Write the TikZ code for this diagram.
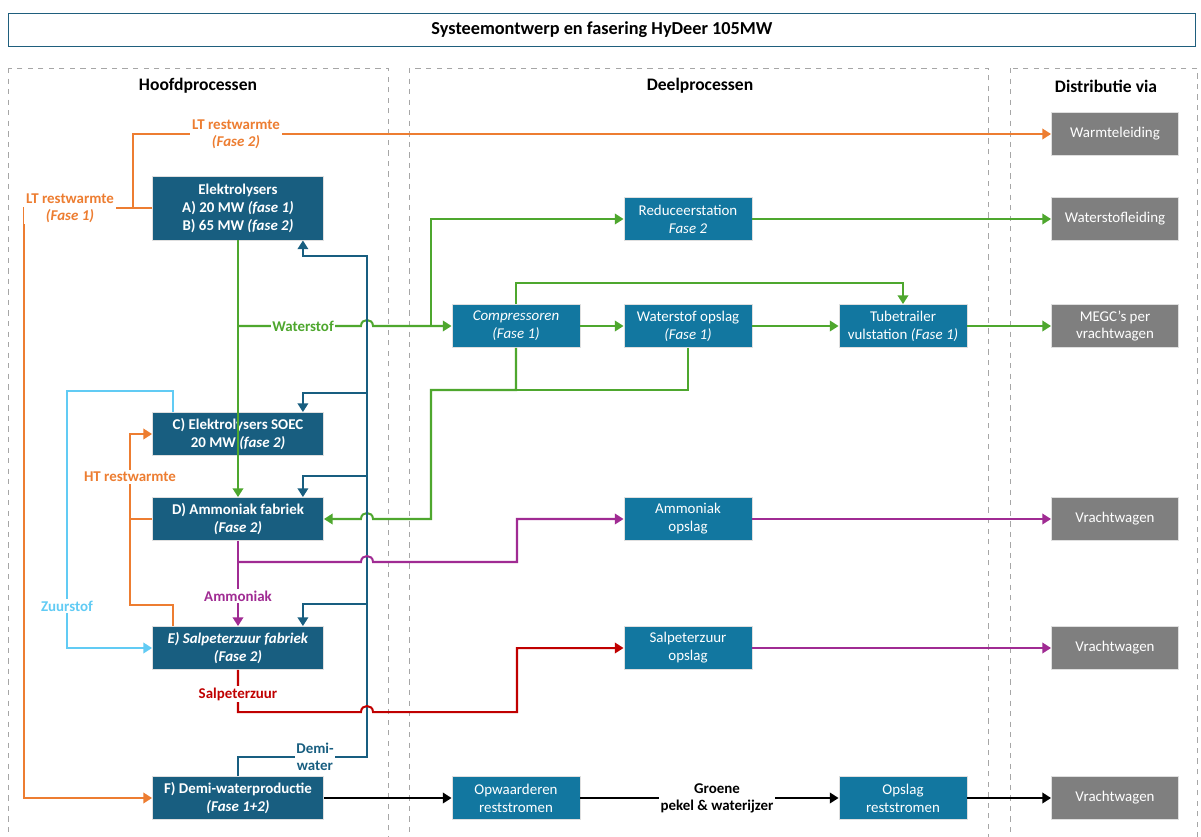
\documentclass[tikz,border=0pt]{standalone}
\usepackage{fontspec}
\setmainfont{Carlito}
\usepackage{tikz}
\usetikzlibrary{arrows.meta,calc}

\definecolor{hoofdblauw}{RGB}{24,94,128}
\definecolor{deelblauw}{RGB}{18,119,160}
\definecolor{distrgrijs}{RGB}{127,127,127}
\definecolor{warmoranje}{RGB}{237,125,49}
\definecolor{h2groen}{RGB}{78,167,46}
\definecolor{zuurblauw}{RGB}{97,203,244}
\definecolor{nh3paars}{RGB}{160,43,147}
\definecolor{hno3rood}{RGB}{192,0,0}
\definecolor{titelrand}{RGB}{31,95,125}

\tikzset{
  boxtekst/.style={font=\fontsize{8.5}{10.2}\selectfont, text=white, align=center, inner sep=1pt},
  hoofd/.style={boxtekst, fill=hoofdblauw, draw=white!75!gray, line width=0.5pt,
    font=\bfseries\fontsize{8.5}{10.2}\selectfont, minimum width=3.42cm, minimum height=0.86cm},
  deel/.style={boxtekst, fill=deelblauw, draw=white!75!gray, line width=0.5pt,
    minimum width=2.56cm, minimum height=0.86cm},
  distr/.style={boxtekst, fill=distrgrijs, draw=white!75!gray, line width=0.5pt,
    minimum width=2.54cm, minimum height=0.86cm},
  kop/.style={font=\bfseries\fontsize{10}{12}\selectfont},
  paneel/.style={draw=gray!70, dashed, line width=0.4pt},
  lijn/.style={line width=1.15pt, -{Triangle[length=5pt,width=6pt]}},
  stub/.style={line width=1.15pt},
  lbl/.style={fill=white, font=\bfseries\fontsize{8.5}{9.6}\selectfont, align=center, inner sep=1pt},
}

\begin{document}
\begin{tikzpicture}[x=0.02cm,y=-0.02cm]
  \useasboundingbox[fill=white] (0,0) rectangle (1201,836);

  % titel en kolommen
  \node (titel) at (602,30)[draw=titelrand, line width=0.6pt, minimum width=23.76cm, minimum height=0.66cm, kop, font=\bfseries\fontsize{10.4}{12}\selectfont]{Systeemontwerp en fasering HyDeer 105MW};
  \draw[paneel] (8,68) rectangle (388,860);
  \draw[paneel] (409,68) rectangle (988,860);
  \draw[paneel] (1010,68) rectangle (1197,860);
  \node (kop1) at (198,86)[kop]{Hoofdprocessen};
  \node (kop2) at (700,86)[kop]{Deelprocessen};
  \node (kop3) at (1106,86)[kop]{Distributie via};

  % hoofdprocessen
  \node (elA) at (238,208)[hoofd, minimum height=1.28cm]{Elektrolysers\\A) 20 MW \textit{(fase 1)}\\B) 65 MW \textit{(fase 2)}};
  \node (soec) at (238,434)[hoofd]{C) Elektrolysers SOEC\\20 MW \textit{(fase 2)}};
  \node (amfab) at (238,519)[hoofd]{D) Ammoniak fabriek\\\textit{(Fase 2)}};
  \node (salp) at (238,648)[hoofd]{\textit{E) Salpeterzuur fabriek}\\\textit{(Fase 2)}};
  \node (demi) at (238,798)[hoofd]{F) Demi-waterproductie\\\textit{(Fase 1+2)}};

  % deelprocessen
  \node (reduc) at (688,219)[deel]{Reduceerstation\\\textit{Fase 2}};
  \node (comp) at (516,326)[deel]{\textit{Compressoren}\\\textit{(Fase 1)}};
  \node (h2opslag) at (688,326)[deel]{Waterstof opslag\\\textit{(Fase 1)}};
  \node (tube) at (903,326)[deel]{Tubetrailer\\vulstation \textit{(Fase 1)}};
  \node (amopslag) at (688,519)[deel]{Ammoniak\\opslag};
  \node (salpopslag) at (688,648)[deel]{Salpeterzuur\\opslag};
  \node (opw) at (516,798)[deel]{Opwaarderen\\reststromen};
  \node (restopslag) at (903,798)[deel]{Opslag\\reststromen};

  % distributie
  \node (warmte) at (1115,134)[distr]{Warmteleiding};
  \node (h2leiding) at (1115,219)[distr]{Waterstofleiding};
  \node (megc) at (1115,326)[distr]{MEGC’s per\\vrachtwagen};
  \node (vracht1) at (1115,519)[distr]{Vrachtwagen};
  \node (vracht2) at (1115,648)[distr]{Vrachtwagen};
  \node (vracht3) at (1115,798)[distr]{Vrachtwagen};

  % restwarmte
  \draw[lijn, warmoranje] (elA.west) -- ++(-19,0) |- (warmte.west);
  \draw[lijn, warmoranje] (elA.west) -| (24,798) -- (demi.west);
  \draw[lijn, warmoranje] (salp.north west) ++(21,0) |- (130,605) |- (soec.west);
  \draw[stub, warmoranje] (amfab.west) -- (130,519);

  % zuurstof
  \draw[lijn, zuurblauw] (soec.north west) ++(21,0) |- (67,391) |- (salp.west);

  % waterstof
  \draw[lijn, h2groen] (elA.south) -- (amfab.north);
  \draw[lijn, h2groen] (elA.south |- comp.west) -- (361,326) .. controls (361,318) and (373,318) .. (373,326) -- (comp.west);
  \draw[lijn, h2groen] (431,326) |- (reduc.west);
  \draw[lijn, h2groen] (comp.north) -- ++(0,-21) -| (tube.north);
  \draw[lijn, h2groen] (comp.east) -- (h2opslag.west);
  \draw[lijn, h2groen] (h2opslag.east) -- (tube.west);
  \draw[lijn, h2groen] (tube.east) -- (megc.west);
  \draw[lijn, h2groen] (reduc.east) -- (h2leiding.west);
  \draw[stub, h2groen] (h2opslag.south) |- (comp.south |- 0,390);
  \draw[lijn, h2groen] (comp.south) |- (431,390) -- (431,519) -- (373,519) .. controls (373,511) and (361,511) .. (361,519) -- (amfab.east);

  % demi-water
  \draw[lijn, hoofdblauw] (demi.north) |- (367,757) -- (367,256) -| ($(elA.south east)+(-21,0)$);
  \draw[lijn, hoofdblauw] (367,393) -| ($(soec.north east)+(-21,0)$);
  \draw[lijn, hoofdblauw] (367,476) -| ($(amfab.north east)+(-21,0)$);
  \draw[lijn, hoofdblauw] (367,604) -| ($(salp.north east)+(-21,0)$);

  % ammoniak
  \draw[lijn, nh3paars] (amfab.south) -- (salp.north);
  \draw[lijn, nh3paars] (amfab.south |- 0,562) -- (361,562) .. controls (361,554) and (373,554) .. (373,562) -- (517,562) |- (amopslag.west);
  \draw[lijn, nh3paars] (amopslag.east) -- (vracht1.west);
  \draw[lijn, nh3paars] (salpopslag.east) -- (vracht2.west);

  % salpeterzuur
  \draw[lijn, hno3rood] (salp.south) |- (361,712) .. controls (361,704) and (373,704) .. (373,712) -- (517,712) |- (salpopslag.west);

  % reststromen
  \draw[lijn, black] (demi.east) -- (opw.west);
  \draw[lijn, black] (opw.east) -- (restopslag.west);
  \draw[lijn, black] (restopslag.east) -- (vracht3.west);

  % labels
  \node (lt2) at (236,134)[lbl, text=warmoranje]{LT restwarmte\\\textit{(Fase 2)}};
  \node (lt1) at (70,208)[lbl, text=warmoranje]{LT restwarmte\\\textit{(Fase 1)}};
  \node (ht) at (130,477)[lbl, text=warmoranje]{HT restwarmte};
  \node (zuurlbl) at (67,606)[lbl, text=zuurblauw]{Zuurstof};
  \node (h2lbl) at (303,326)[lbl, text=h2groen]{Waterstof};
  \node (nh3lbl) at (238,596)[lbl, text=nh3paars]{Ammoniak};
  \node (hno3lbl) at (238,694)[lbl, text=hno3rood]{Salpeterzuur};
  \node (demilbl) at (315,757)[lbl, text=hoofdblauw]{Demi-\\water};
  \node (restlbl) at (717,798)[lbl, text=black]{Groene\\pekel \& waterijzer};
\end{tikzpicture}
\end{document}
